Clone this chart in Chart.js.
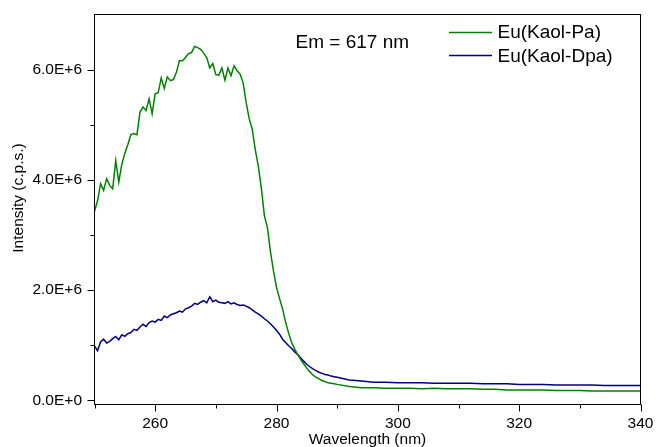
<!DOCTYPE html>
<html>
<head>
<meta charset="utf-8">
<script src="https://cdn.jsdelivr.net/npm/chart.js@4/dist/chart.umd.min.js"></script>
<style>
	html, body { margin: 0; padding: 0; background: #fff; overflow: hidden; }
	canvas { display: block; }
</style>
</head>
<body>
<canvas id="excitation_chart" width="656" height="447"></canvas>
<script>
// data (wavelength in nm, intensity in c.p.s.)
const wavelength = [
	250, 250.5, 251, 251.5, 252, 252.5, 253, 253.5, 254, 254.5,
	255, 255.5, 256, 256.5, 257, 257.5, 258, 258.5, 259, 259.5,
	260, 260.5, 261, 261.5, 262, 262.5, 263, 263.5, 264, 264.5,
	265, 265.5, 266, 266.5, 267, 267.5, 268, 268.5, 269, 269.5,
	270, 270.5, 271, 271.5, 272, 272.5, 273, 273.5, 274, 274.5,
	275, 275.5, 276, 276.5, 277, 277.5, 278, 278.5, 279, 279.5,
	280, 280.5, 281, 281.5, 282, 282.5, 283, 283.5, 284, 284.5,
	285, 285.5, 286, 286.5, 287, 287.5, 288, 288.5, 289, 289.5,
	290, 292, 294, 296, 298, 300, 302, 304, 306, 308,
	310, 312, 314, 316, 318, 320, 322, 324, 326, 328,
	330, 332, 334, 336, 338, 340
];

const kaol_pa = [
	3.43e6, 3.62e6, 3.93e6, 3.81e6, 4.02e6, 3.90e6, 3.84e6, 4.35e6, 3.96e6, 4.28e6,
	4.48e6, 4.64e6, 4.82e6, 4.84e6, 4.82e6, 5.23e6, 5.32e6, 5.26e6, 5.47e6, 5.20e6,
	5.56e6, 5.58e6, 5.85e6, 5.66e6, 5.87e6, 5.80e6, 5.82e6, 5.95e6, 6.16e6, 6.16e6,
	6.22e6, 6.29e6, 6.31e6, 6.42e6, 6.40e6, 6.37e6, 6.30e6, 6.22e6, 6.03e6, 6.11e6,
	5.91e6, 5.90e6, 6.03e6, 5.81e6, 6.03e6, 5.89e6, 6.07e6, 5.98e6, 5.92e6, 5.76e6,
	5.40e6, 5.11e6, 4.92e6, 4.55e6, 4.25e6, 3.85e6, 3.35e6, 3.14e6, 2.70e6, 2.35e6,
	2.05e6, 1.85e6, 1.66e6, 1.42e6, 1.22e6, 1.05e6, 0.93e6, 0.83e6, 0.74e6, 0.66e6,
	0.58e6, 0.52e6, 0.46e6, 0.42e6, 0.39e6, 0.36e6, 0.34e6, 0.32e6, 0.31e6, 0.30e6,
	0.29e6, 0.25e6, 0.23e6, 0.23e6, 0.22e6, 0.22e6, 0.22e6, 0.21e6, 0.22e6, 0.21e6,
	0.21e6, 0.21e6, 0.20e6, 0.20e6, 0.19e6, 0.19e6, 0.19e6, 0.19e6, 0.18e6, 0.18e6,
	0.18e6, 0.17e6, 0.17e6, 0.17e6, 0.17e6, 0.17e6
];

const kaol_dpa = [
	0.99e6, 0.90e6, 1.06e6, 1.11e6, 1.04e6, 1.07e6, 1.12e6, 1.16e6, 1.10e6, 1.19e6,
	1.16e6, 1.21e6, 1.23e6, 1.29e6, 1.27e6, 1.33e6, 1.38e6, 1.34e6, 1.41e6, 1.44e6,
	1.42e6, 1.47e6, 1.45e6, 1.53e6, 1.50e6, 1.55e6, 1.57e6, 1.59e6, 1.62e6, 1.60e6,
	1.66e6, 1.68e6, 1.71e6, 1.76e6, 1.74e6, 1.78e6, 1.81e6, 1.77e6, 1.88e6, 1.79e6,
	1.82e6, 1.78e6, 1.77e6, 1.76e6, 1.79e6, 1.75e6, 1.77e6, 1.74e6, 1.72e6, 1.73e6,
	1.71e6, 1.68e6, 1.64e6, 1.60e6, 1.57e6, 1.53e6, 1.48e6, 1.44e6, 1.39e6, 1.33e6,
	1.27e6, 1.20e6, 1.11e6, 1.05e6, 0.99e6, 0.94e6, 0.88e6, 0.83e6, 0.77e6, 0.71e6,
	0.65e6, 0.61e6, 0.57e6, 0.54e6, 0.51e6, 0.49e6, 0.47e6, 0.46e6, 0.44e6, 0.43e6,
	0.42e6, 0.37e6, 0.35e6, 0.33e6, 0.33e6, 0.32e6, 0.32e6, 0.32e6, 0.31e6, 0.31e6,
	0.31e6, 0.31e6, 0.30e6, 0.30e6, 0.30e6, 0.29e6, 0.29e6, 0.29e6, 0.28e6, 0.28e6,
	0.28e6, 0.28e6, 0.27e6, 0.27e6, 0.27e6, 0.27e6
];

const series_labels = ["Eu(Kaol-Pa)", "Eu(Kaol-Dpa)"];
const series_colors = ["#008000", "#000080"];

// ticks
const x_major = [260, 280, 300, 320, 340];
const x_minor = [250, 270, 290, 310, 330];
const y_major = [0, 2e6, 4e6, 6e6];
const y_minor = [1e6, 3e6, 5e6];

const font_family = "'Liberation Sans', Arial, sans-serif";

function toPoints(values) {
	return values.map((v, i) => ({ x: wavelength[i], y: v }));
}

function formatSci(value) {
	if (value === 0) return "0.0E+0";
	const exp = Math.floor(Math.log10(value));
	return (value / Math.pow(10, exp)).toFixed(1) + "E+" + exp;
}

// no extra room for label overflow, the layout padding sets the plot box
function noOverflow(scale) {
	scale.paddingTop = 0;
	scale.paddingBottom = 0;
	scale.paddingLeft = 0;
	scale.paddingRight = 0;
}

// frame, tick marks, legend and note
const frame_plugin = {
	id: "frame_plugin",
	afterDraw(chart) {
		const c = chart.ctx;
		const area = chart.chartArea;
		const xs = chart.scales.x;
		const ys = chart.scales.y;

		c.save();
		c.strokeStyle = "#000";
		c.lineWidth = 1;
		c.strokeRect(area.left, area.top, area.right - area.left, area.bottom - area.top);

		c.beginPath();
		x_major.forEach((v) => {
			const px = Math.round(xs.getPixelForValue(v)) + 0.5;
			c.moveTo(px, area.bottom);
			c.lineTo(px, area.bottom + 7);
		});
		x_minor.forEach((v) => {
			const px = Math.round(xs.getPixelForValue(v)) + 0.5;
			c.moveTo(px, area.bottom);
			c.lineTo(px, area.bottom + 4);
		});
		y_major.forEach((v) => {
			const py = Math.round(ys.getPixelForValue(v)) + 0.5;
			c.moveTo(area.left, py);
			c.lineTo(area.left - 7, py);
		});
		y_minor.forEach((v) => {
			const py = Math.round(ys.getPixelForValue(v)) + 0.5;
			c.moveTo(area.left, py);
			c.lineTo(area.left - 4, py);
		});
		c.stroke();

		// y axis title
		c.fillStyle = "#000";
		c.font = "15.5px " + font_family;
		c.textAlign = "center";
		c.textBaseline = "middle";
		c.translate(19, 198);
		c.rotate(-Math.PI / 2);
		c.fillText("Intensity (c.p.s.)", 0, 0);
		c.restore();

		// note
		c.save();
		c.fillStyle = "#000";
		c.font = "19px " + font_family;
		c.textBaseline = "alphabetic";
		c.fillText("Em = 617 nm", 295.5, 47.7);

		// legend
		chart.data.datasets.forEach((ds, i) => {
			const ly = [32.5, 55.5][i];
			c.strokeStyle = ds.borderColor;
			c.lineWidth = 1.5;
			c.beginPath();
			c.moveTo(449, ly);
			c.lineTo(492, ly);
			c.stroke();
			c.fillText(ds.label, 497.5, [38, 62][i]);
		});
		c.restore();
	},
};

const ctx = document.getElementById("excitation_chart").getContext("2d");

const my_chart = new Chart(ctx, {
	type: "line",
	data: {
		datasets: [
			{
				label: series_labels[0],
				data: toPoints(kaol_pa),
				borderColor: series_colors[0],
				backgroundColor: series_colors[0],
				borderWidth: 1.5,
				pointRadius: 0,
				tension: 0,
				fill: false,
			},
			{
				label: series_labels[1],
				data: toPoints(kaol_dpa),
				borderColor: series_colors[1],
				backgroundColor: series_colors[1],
				borderWidth: 1.5,
				pointRadius: 0,
				tension: 0,
				fill: false,
			},
		],
	},
	options: {
		responsive: false,
		animation: false,
		layout: {
			padding: { top: 14.5, right: 15.5, bottom: 0, left: 0 },
		},
		plugins: {
			legend: { display: false },
			tooltip: { enabled: false },
		},
		scales: {
			x: {
				type: "linear",
				min: 250,
				max: 340,
				grid: { display: false, drawTicks: false },
				border: { display: false },
				afterBuildTicks: (scale) => {
					scale.ticks = x_major.map((v) => ({ value: v }));
				},
				afterFit: (scale) => {
					scale.height = 42.5;
					noOverflow(scale);
				},
				ticks: {
					padding: 9.5,
					maxRotation: 0,
					color: "#000",
					font: { family: font_family, size: 15.5 },
					callback: (value) => value,
				},
				title: {
					display: true,
					text: "Wavelength (nm)",
					color: "#000",
					padding: { top: 0, bottom: -2 },
					font: { family: font_family, size: 15.5 },
				},
			},
			y: {
				type: "linear",
				min: -75000,
				max: 7000000,
				grid: { display: false, drawTicks: false },
				border: { display: false },
				afterBuildTicks: (scale) => {
					scale.ticks = y_major.map((v) => ({ value: v }));
				},
				afterFit: (scale) => {
					scale.width = 94.5;
					noOverflow(scale);
				},
				ticks: {
					padding: 12.5,
					color: "#000",
					font: { family: font_family, size: 15.5 },
					callback: (value) => formatSci(value),
				},
			},
		},
	},
	plugins: [frame_plugin],
});
</script>
</body>
</html>
